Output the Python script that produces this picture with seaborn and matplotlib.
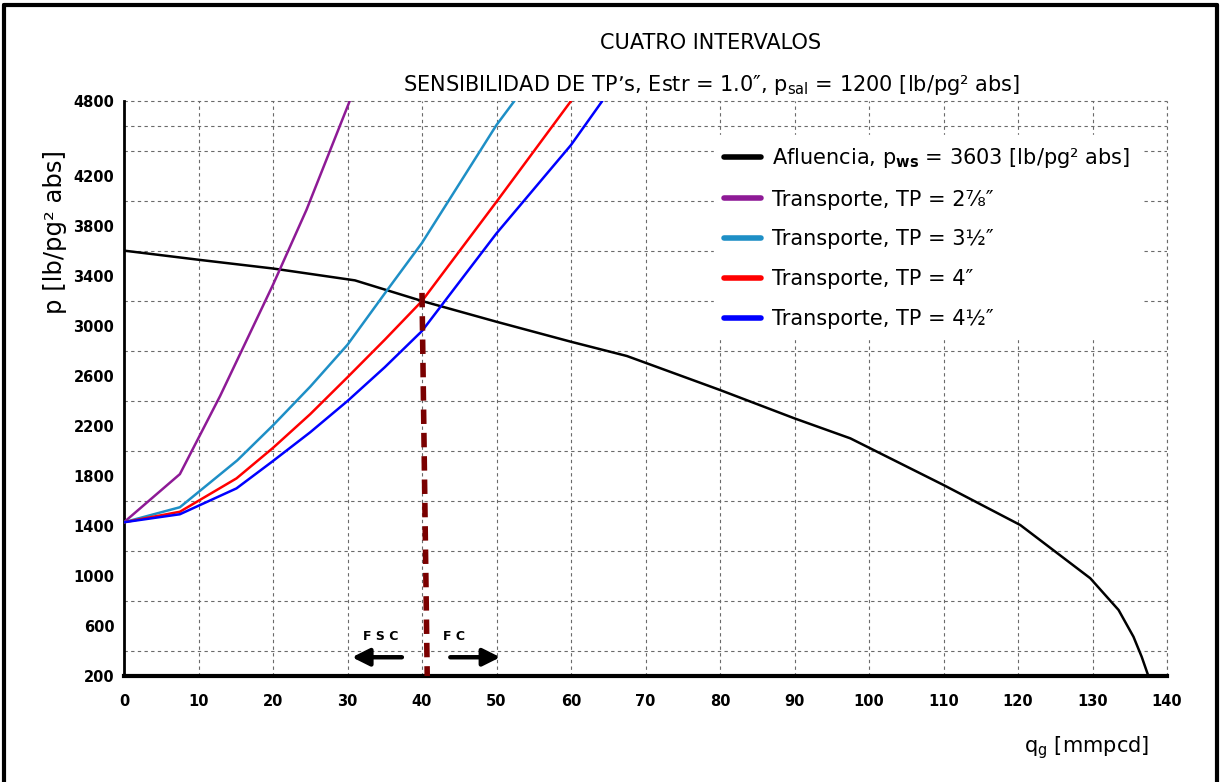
import numpy as np
import pandas as pd
import matplotlib
matplotlib.use("Agg")
import matplotlib.pyplot as plt
from matplotlib.ticker import MultipleLocator, FixedLocator
import seaborn as sns

# ---------------- data ----------------
q_ipr = [0, 10, 20, 31, 40, 50, 60, 67.5, 80, 90, 97.5, 110, 120.3, 129.7, 133.5, 135.5, 136.6, 137.5]
p_ipr = [3603, 3530, 3460, 3365, 3200, 3034, 2874, 2760, 2488, 2261, 2101, 1728, 1408, 982, 728, 514, 354, 200]

q_tp278 = [0, 7.5, 12.9, 20, 24.5, 30.3]
p_tp278 = [1430, 1815, 2440, 3330, 3930, 4800]

q_tp312 = [0, 7.5, 15.2, 20, 25, 30, 35.4, 40, 50, 52.4]
p_tp312 = [1430, 1550, 1925, 2205, 2515, 2850, 3293, 3665, 4608, 4800]

q_tp4 = [0, 7.5, 15.1, 20, 25, 30, 35, 40, 50, 60]
p_tp4 = [1430, 1514, 1781, 2025, 2295, 2590, 2890, 3200, 3994, 4800]

q_tp412 = [0, 7.5, 15.1, 20, 25, 30, 35, 40, 50, 60, 64.2]
p_tp412 = [1430, 1494, 1701, 1920, 2150, 2400, 2670, 2960, 3741, 4448, 4800]

q_cruce = [40.0, 40.7]
p_cruce = [3265, 200]

series_labels = [
    r"Afluencia, p$_{\mathbf{ws}}$ = 3603 [lb/pg² abs]",
    "Transporte, TP = 2⅞″",
    "Transporte, TP = 3½″",
    "Transporte, TP = 4″",
    "Transporte, TP = 4½″",
]
series_colors = ["#000000", "#8E1A96", "#1E8FC6", "#FF0000", "#0000FF"]

x_ticks = list(range(0, 141, 10))
y_ticks = [200, 600, 1000, 1400, 1800, 2200, 2600, 3000, 3400, 3800, 4200, 4800]

title1 = "CUATRO INTERVALOS"
title2 = r"SENSIBILIDAD DE TP’s, Estr = 1.0″, p$_{\mathrm{sal}}$ = 1200 [lb/pg² abs]"

# ---------------- frame ----------------
all_q = [q_ipr, q_tp278, q_tp312, q_tp4, q_tp412]
all_p = [p_ipr, p_tp278, p_tp312, p_tp4, p_tp412]
df = pd.concat(
    [pd.DataFrame({"q": q, "p": p, "serie": lab}) for q, p, lab in zip(all_q, all_p, series_labels)],
    ignore_index=True,
)

sns.set_style("white")
plt.rcParams["font.family"] = ["DejaVu Sans"]
plt.rcParams["mathtext.fontset"] = "dejavusans"
for k in ["text.color", "axes.labelcolor", "xtick.color", "ytick.color"]:
    plt.rcParams[k] = "black"

fig = plt.figure(figsize=(12.21, 7.82), dpi=100)
ax = fig.add_axes([124 / 1221, 1 - 676 / 782, (1167 - 124) / 1221, (676 - 101) / 782])

sns.lineplot(
    data=df, x="q", y="p", hue="serie", hue_order=series_labels,
    palette=dict(zip(series_labels, series_colors)),
    sort=False, estimator=None, linewidth=1.8, ax=ax, zorder=3,
)

# operating point line
ax.plot(q_cruce, p_cruce, color="#7A0000", lw=4, ls=(0, (2.6, 1.6)), zorder=4, solid_capstyle="butt")

# arrows and labels
ax.annotate("", xy=(30.6, 350), xytext=(37.3, 350),
            arrowprops=dict(arrowstyle="-|>", lw=3.2, color="black", mutation_scale=26, shrinkA=0, shrinkB=0))
ax.annotate("", xy=(50.5, 350), xytext=(43.8, 350),
            arrowprops=dict(arrowstyle="-|>", lw=3.2, color="black", mutation_scale=26, shrinkA=0, shrinkB=0))
ax.text(34.5, 520, "F S C", ha="center", va="center", fontsize=9, fontweight="bold")
ax.text(44.3, 520, "F C", ha="center", va="center", fontsize=9, fontweight="bold")

# axes
ax.set_xlim(0, 140)
ax.set_ylim(200, 4800)
ax.xaxis.set_major_locator(FixedLocator(x_ticks))
ax.xaxis.set_minor_locator(MultipleLocator(2))
ax.yaxis.set_major_locator(FixedLocator(y_ticks))
ax.yaxis.set_minor_locator(MultipleLocator(200))
for lab in ax.get_xticklabels() + ax.get_yticklabels():
    lab.set_fontweight("bold")
ax.tick_params(axis="x", which="major", length=5, width=1, direction="out", labelsize=10.5, pad=8, colors="black")
ax.tick_params(axis="x", which="minor", length=3, width=0.8, direction="out", colors="black")
ax.tick_params(axis="y", which="both", length=0, labelsize=10.5, pad=7, colors="black")

gcol = "#6a6a6a"
ax.grid(False)
ax.grid(True, which="major", axis="x", color=gcol, lw=0.8, ls=(0, (3, 3)))
ax.grid(True, which="minor", axis="y", color=gcol, lw=0.8, ls=(0, (3, 3)))
ax.set_axisbelow(True)

for side in ["top", "right"]:
    ax.spines[side].set_visible(False)
ax.spines["left"].set_linewidth(2)
ax.spines["bottom"].set_linewidth(3)
ax.spines["left"].set_color("black")
ax.spines["bottom"].set_color("black")
ax.axhline(4800, color=gcol, lw=0.8, ls=(0, (3, 3)), zorder=1, clip_on=False)
ax.axvline(140, color=gcol, lw=0.8, ls=(0, (3, 3)), zorder=1, clip_on=False)

ax.set_xlabel("")
ax.set_ylabel("")

# legend
handles, labels = ax.get_legend_handles_labels()
leg = ax.legend(handles, labels, loc="upper right",
                bbox_to_anchor=(1151 / 1221, 1 - 125 / 782), bbox_transform=fig.transFigure,
                fontsize=15, frameon=True, facecolor="white", edgecolor="white", framealpha=1,
                handlelength=1.75, handletextpad=0.55, labelspacing=0.95, borderpad=0.5)
for line in leg.get_lines():
    line.set_linewidth(4)
for t in leg.get_texts():
    t.set_color("black")
leg.set_zorder(5)

# titles and axis labels
fig.text(711 / 1221, 1 - 43 / 782, title1, ha="center", va="center", fontsize=15)
fig.text(711 / 1221, 1 - 85 / 782, title2, ha="center", va="center", fontsize=15)
fig.text(55 / 1221, 1 - 232 / 782, "p [lb/pg² abs]", rotation=90, ha="center", va="center", fontsize=17.5)
fig.text(1087 / 1221, 1 - 748 / 782, r"q$_{\mathrm{g}}$ [mmpcd]", ha="center", va="center", fontsize=15)

# outer border
for coords in [((4 / 1221, 4 / 1221), (0, 1 - 5 / 782)),
               ((4 / 1221, 1217 / 1221), (1 - 5 / 782, 1 - 5 / 782)),
               ((1217 / 1221, 1217 / 1221), (1 - 5 / 782, 0))]:
    fig.add_artist(plt.Line2D(coords[0], coords[1], color="black", lw=3, transform=fig.transFigure))

fig.savefig("out.png", dpi=100, facecolor="white")
